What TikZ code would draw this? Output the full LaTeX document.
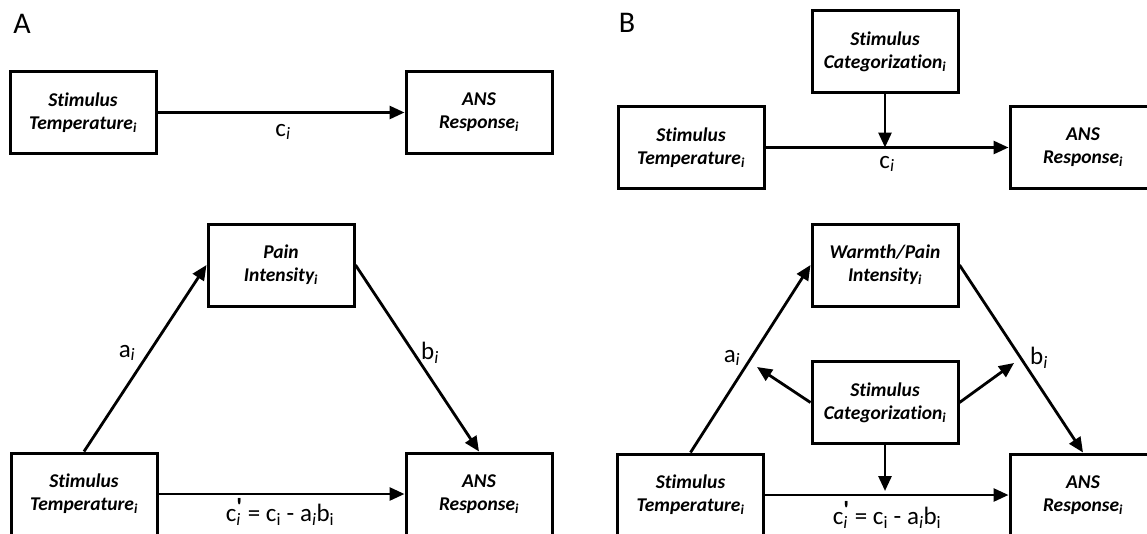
\documentclass[tikz,border=0pt]{standalone}
\usepackage{fontspec}
\setmainfont[Ligatures={NoCommon}]{Carlito}
\usetikzlibrary{arrows.meta}
\newcommand{\cprime}{c\rlap{\textsubscript{\textit{i}}}\raisebox{0.22em}{\textbf{\textquotesingle}}\ = c\textsubscript{i} - a\textsubscript{\textit{i}}b\textsubscript{i}}
\begin{document}
\begin{tikzpicture}[x=1pt,y=-1pt,
  box/.style={draw, line width=3pt, minimum width=146pt, minimum height=82pt, inner sep=0pt, align=center,
    font=\fontsize{19.5}{23}\selectfont\bfseries\itshape},
  conn/.style={line width=2.8pt, -{Triangle[length=15pt,width=13pt]}},
  lab/.style={font=\fontsize{25}{28}\selectfont, inner sep=0pt},
  panel/.style={font=\fontsize{30}{32}\selectfont, inner sep=0pt}]
\useasboundingbox (0,0) rectangle (1147,533);
% ---------- Panel A ----------
\node[panel] (labA) at (22,24) {A};
\node[box] (stA1) at (83,112.5) {Stimulus\\Temperature\textsubscript{i}};
\node[box] (ansA1) at (479,112.5) {ANS\\Response\textsubscript{i}};
\draw[conn] (stA1) -- (ansA1);
\node[lab] (cA) at (283,132) {c\textsubscript{\textit{i}}};

\node[box] (painA) at (281,265) {Pain\\Intensity\textsubscript{i}};
\node[box] (stA2) at (84,494) {Stimulus\\Temperature\textsubscript{i}};
\node[box] (ansA2) at (479,494) {ANS\\Response\textsubscript{i}};
\draw[conn] (stA2.north) -- (painA.west);
\draw[conn] (painA.east) -- (ansA2.north);
\draw[conn] (stA2) -- (ansA2);
\node[lab] (aA) at (127,353) {a\textsubscript{\textit{i}}};
\node[lab] (bA) at (430,353) {b\textsubscript{\textit{i}}};
\node[lab] (cpA) at (280,512) {\cprime};
% ---------- Panel B ----------
\node[panel] (labB) at (627,23) {B};
\node[box] (catB1) at (885,51.5) {Stimulus\\Categorization\textsubscript{i}};
\node[box] (stB1) at (691,147.5) {Stimulus\\Temperature\textsubscript{i}};
\node[box] (ansB1) at (1083,147.5) {ANS\\Response\textsubscript{i}};
\draw[conn] (stB1) -- (ansB1);
\draw[conn] (catB1.south) -- (catB1.south |- stB1.east);
\node[lab] (cB) at (887,164) {c\textsubscript{\textit{i}}};

\node[box] (warmB) at (885,265) {Warmth/Pain\\Intensity\textsubscript{i}};
\node[box] (catB2) at (885,402.5) {Stimulus\\Categorization\textsubscript{i}};
\node[box] (stB2) at (690.5,495) {Stimulus\\Temperature\textsubscript{i}};
\node[box] (ansB2) at (1083,495) {ANS\\Response\textsubscript{i}};
\draw[conn] (stB2.north) -- (warmB.west);
\draw[conn] (warmB.east) -- (ansB2.north);
\draw[conn] (stB2) -- (ansB2);
\draw[conn, shorten >=4pt] (catB2.south) -- (catB2.south |- stB2.east);
\coordinate (tipL) at (757,367);
\coordinate (tipR) at (1014,363);
\draw[conn] (catB2.west) -- (tipL);
\draw[conn] (catB2.east) -- (tipR);
\node[lab] (aB) at (732,358) {a\textsubscript{\textit{i}}};
\node[lab] (bB) at (1039,358) {b\textsubscript{\textit{i}}};
\node[lab] (cpB) at (887,515) {\cprime};
\end{tikzpicture}
\end{document}
